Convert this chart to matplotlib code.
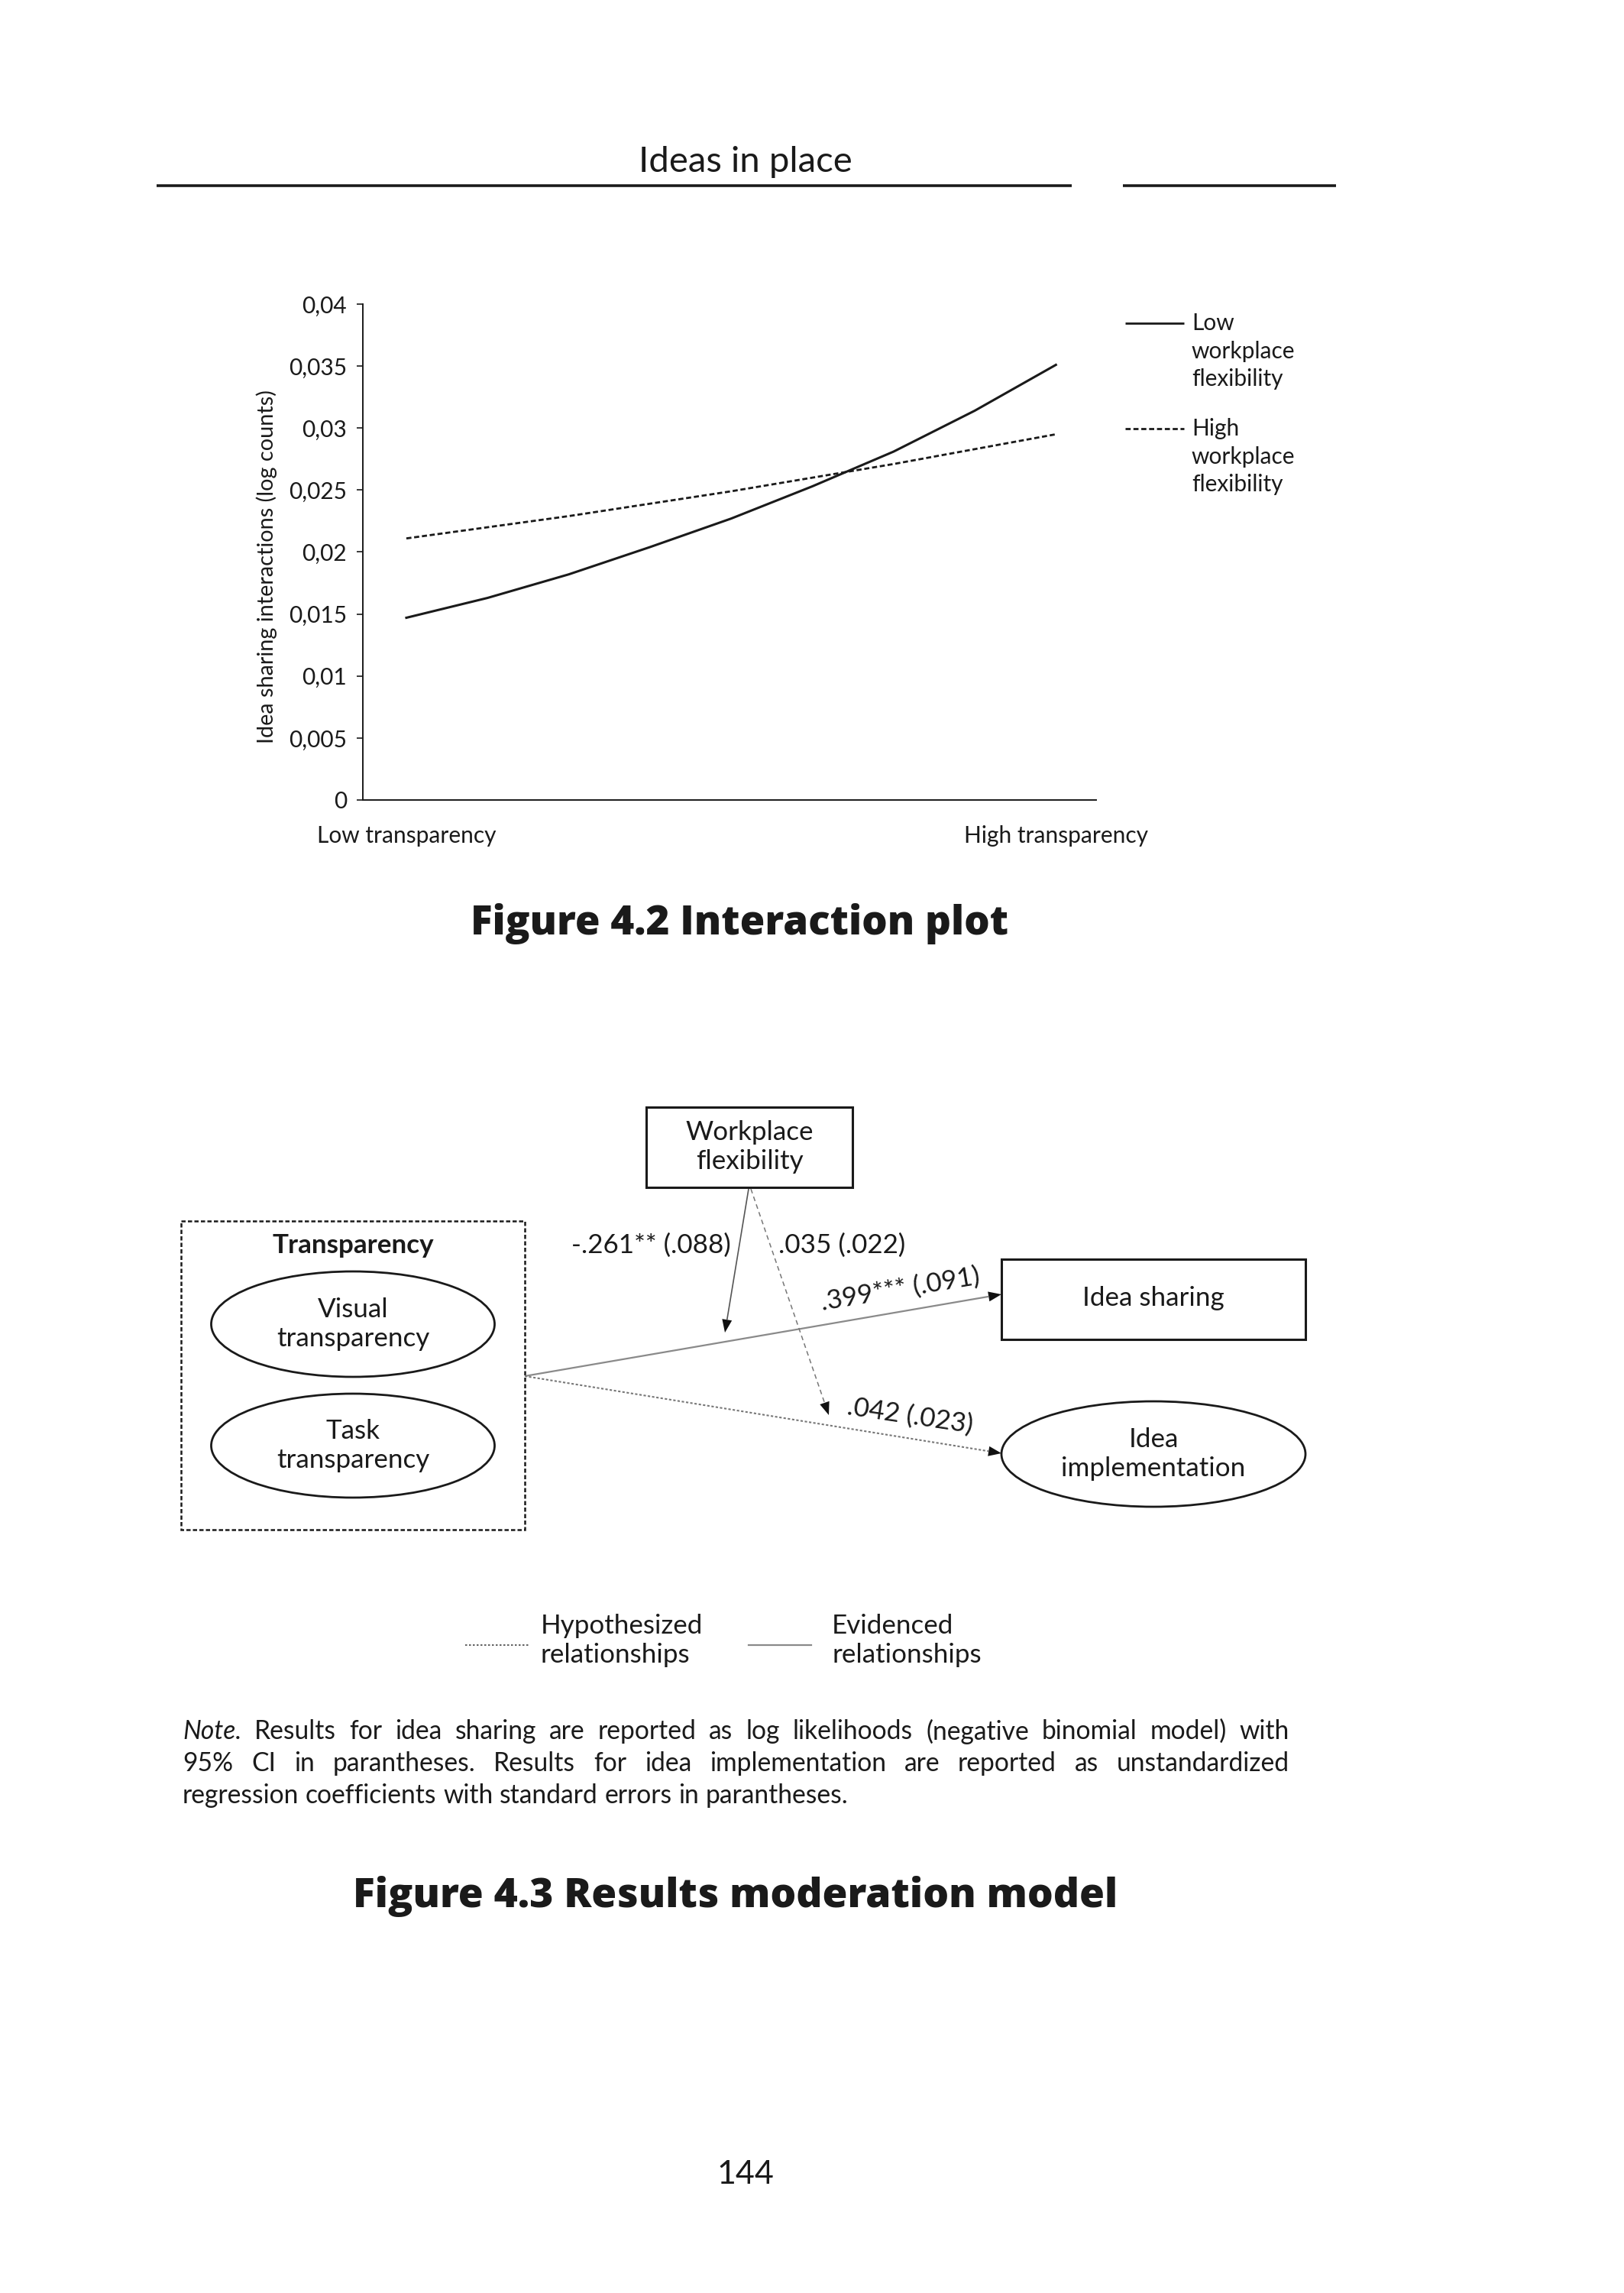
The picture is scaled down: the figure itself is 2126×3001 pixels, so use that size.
import matplotlib
matplotlib.use('Agg')
import matplotlib.pyplot as plt
from matplotlib.patches import Ellipse, Rectangle, Polygon
import numpy as np

# ---------------- data ----------------
x_categories = ['Low transparency', 'High transparency']
t_positions = [0, 0.125, 0.25, 0.375, 0.5, 0.625, 0.75, 0.875, 1.0]
low_flex_values = [0.0147, 0.0163, 0.0182, 0.0204, 0.0227, 0.0253, 0.0281, 0.0314, 0.0351]
high_flex_values = [0.0211, 0.0220, 0.0229, 0.0239, 0.0249, 0.0260, 0.0271, 0.0283, 0.0295]
y_ticks = [0, 0.005, 0.01, 0.015, 0.02, 0.025, 0.03, 0.035, 0.04]
y_tick_labels = ['0', '0,005', '0,01', '0,015', '0,02', '0,025', '0,03', '0,035', '0,04']
legend_labels = ['Low\nworkplace\nflexibility', 'High\nworkplace\nflexibility']
y_label = 'Idea sharing interactions (log counts)'

coef_moderation_sharing = '-.261** (.088)'
coef_moderation_impl = '.035 (.022)'
coef_sharing = '.399*** (.091)'
coef_impl = '.042 (.023)'

note_lines = [
    'Results for idea sharing are reported as log likelihoods (negative binomial model) with',
    '95% CI in parantheses. Results for idea implementation are reported as unstandardized',
    'regression coefficients with standard errors in parantheses.',
]

W, H = 2126, 3001
FONT = 'Lato'
INK = '#1a1a1a'

fig = plt.figure(figsize=(W / 100, H / 100), dpi=100)
fig.patch.set_facecolor('white')
renderer = fig.canvas.get_renderer()

# page overlay axes in pixel coordinates (origin top-left)
pg = fig.add_axes([0, 0, 1, 1])
pg.set_xlim(0, W)
pg.set_ylim(H, 0)
pg.axis('off')


def width_of(t):
    return t.get_window_extent(renderer).width


def fit(ax, x, y, s, width, base=20, **kw):
    t = ax.text(x, y, s, fontsize=base, **kw)
    t.set_fontsize(base * width / width_of(t))
    return t


def size_for(s, width, base=20, **kw):
    t = pg.text(0, 0, s, fontsize=base, **kw)
    w = width_of(t)
    t.remove()
    return base * width / w

# ---------------- header ----------------
fit(pg, 976, 212, 'Ideas in place', 280, family=FONT, weight='normal',
    ha='center', va='center', color=INK)
pg.plot([205, 1403], [243, 243], color=INK, lw=2.6, solid_capstyle='butt')
pg.plot([1470, 1749], [243, 243], color=INK, lw=2.6, solid_capstyle='butt')

# ---------------- chart ----------------
chart_fs = size_for('Low transparency', 234, family=FONT)
ax = fig.add_axes([475 / W, 1 - 1047 / H, 960 / W, 649 / H])
ax.set_facecolor('none')
ax.plot(t_positions, low_flex_values, color=INK, lw=2.2, solid_joinstyle='round')
ax.plot(t_positions, high_flex_values, color=INK, lw=2.0, ls=(0, (2.4, 1.3)))
ax.set_xlim(-0.067, 1.062)
ax.set_ylim(0, 0.04)
for s in ['top', 'right']:
    ax.spines[s].set_visible(False)
for s in ['left', 'bottom']:
    ax.spines[s].set_color(INK)
    ax.spines[s].set_linewidth(1.4)
ax.set_yticks(y_ticks)
ax.set_yticklabels(y_tick_labels, family=FONT, fontsize=chart_fs, color=INK)
ax.set_xticks([0, 1])
ax.set_xticklabels(x_categories, family=FONT, fontsize=chart_fs, color=INK)
ax.tick_params(axis='y', direction='out', length=6, width=1.2, pad=9, colors=INK)
ax.tick_params(axis='x', length=0, pad=24, colors=INK)
ax.set_ylabel(y_label, family=FONT, fontsize=chart_fs * 0.97, color=INK)
ax.yaxis.set_label_coords(-0.117, 0.47)

# chart legend (manual, handle aligned with first text line)
lsp = 41 / (chart_fs * 100 / 72)
pg.plot([1473, 1550], [423, 423], color=INK, lw=2.0, solid_capstyle='butt')
pg.text(1560, 423 - 14, legend_labels[0], family=FONT, fontsize=chart_fs, color=INK,
        ha='left', va='top', linespacing=lsp)
pg.plot([1473, 1550], [561, 561], color=INK, lw=2.0, ls=(0, (2.4, 1.3)))
pg.text(1560, 561 - 14, legend_labels[1], family=FONT, fontsize=chart_fs, color=INK,
        ha='left', va='top', linespacing=lsp)

# title 4.2
fit(pg, 968, 1209, 'Figure 4.2 Interaction plot', 704, family='Open Sans',
    weight='heavy', ha='center', va='center', color=INK)

# ---------------- diagram ----------------
dfs = size_for('Idea sharing', 186, family=FONT)
dlsp = 42 / (dfs * 100 / 72)


def dtext(x, y, s, **kw):
    kw.setdefault('ha', 'center')
    kw.setdefault('va', 'center')
    return pg.text(x, y, s, family=FONT, fontsize=dfs, color=INK, linespacing=dlsp, **kw)


def arrow(p0, p1, color, ls, lw, hl=17, hw=6.5):
    p0 = np.array(p0, float)
    p1 = np.array(p1, float)
    d = p1 - p0
    u = d / np.hypot(*d)
    n = np.array([-u[1], u[0]])
    base = p1 - u * hl
    pg.plot([p0[0], base[0]], [p0[1], base[1]], color=color, ls=ls, lw=lw,
            solid_capstyle='butt')
    pg.add_patch(Polygon([p1, base + n * hw, base - n * hw], closed=True,
                         facecolor='#111111', edgecolor='none'))

# workplace flexibility box
pg.add_patch(Rectangle((846, 1449), 270, 105, fill=False, ec=INK, lw=2.2))
dtext(981, 1501, 'Workplace\nflexibility')

# transparency dashed box
pg.add_patch(Rectangle((237, 1598), 450, 404, fill=False, ec=INK, lw=1.8,
                       ls=(0, (2.2, 1.2))))
dtext(462, 1630, 'Transparency', weight='bold')
pg.add_patch(Ellipse((462, 1733), 371, 138, fill=False, ec=INK, lw=2.0))
dtext(462, 1733, 'Visual\ntransparency')
pg.add_patch(Ellipse((462, 1892), 371, 136, fill=False, ec=INK, lw=2.0))
dtext(462, 1892, 'Task\ntransparency')

# idea sharing box
pg.add_patch(Rectangle((1311, 1648), 398, 105, fill=False, ec=INK, lw=2.2))
dtext(1510, 1699, 'Idea sharing')

# idea implementation ellipse
pg.add_patch(Ellipse((1510, 1903), 398, 138, fill=False, ec=INK, lw=2.0))
dtext(1510, 1903, 'Idea\nimplementation')

# arrows
arrow((687, 1801), (1311, 1694), '#8a8a8a', '-', 1.6)
arrow((687, 1801), (1311, 1902), '#777777', (0, (1.5, 1.2)), 1.5)
arrow((980, 1556), (949, 1744), '#555555', '-', 1.2)
arrow((983, 1556), (1085, 1852), '#777777', (0, (4, 3)), 1.1)

# coefficients
dtext(852, 1630, coef_moderation_sharing)
dtext(1102, 1630, coef_moderation_impl)
dtext(1178, 1688, coef_sharing, rotation=9.5, rotation_mode='anchor')
dtext(1191, 1853, coef_impl, rotation=-8.5, rotation_mode='anchor')

# diagram legend
pg.plot([609, 693], [2153, 2153], color='#666666', lw=1.5, ls=(0, (1.2, 1.2)))
dtext(708, 2147, 'Hypothesized\nrelationships', ha='left')
pg.plot([980, 1062], [2153, 2153], color='#8a8a8a', lw=1.6)
dtext(1089, 2147, 'Evidenced\nrelationships', ha='left')

# note (justified)
nfs = size_for(note_lines[2], 873, family=FONT)
x_left, x_right = 239, 1688
line_y = [2266, 2308, 2350]
for i, (line, y) in enumerate(zip(note_lines, line_y)):
    words = line.split(' ')
    items = []
    if i == 0:
        items.append(pg.text(0, y, 'Note.', family=FONT, style='italic', fontsize=nfs,
                             color=INK, ha='left', va='center'))
    for w_ in words:
        items.append(pg.text(0, y, w_, family=FONT, fontsize=nfs, color=INK,
                             ha='left', va='center'))
    widths = [width_of(t) for t in items]
    if i < 2:
        gap = (x_right - x_left - sum(widths)) / (len(items) - 1)
    else:
        sp = pg.text(0, 0, 'a a', family=FONT, fontsize=nfs)
        sp2 = pg.text(0, 0, 'aa', family=FONT, fontsize=nfs)
        gap = width_of(sp) - width_of(sp2)
        sp.remove(); sp2.remove()
    xx = x_left
    for t, wd in zip(items, widths):
        t.set_x(xx)
        xx += wd + gap

# title 4.3
fit(pg, 963, 2482, 'Figure 4.3 Results moderation model', 1001, family='Open Sans',
    weight='heavy', ha='center', va='center', color=INK)

# page number
fit(pg, 976, 2846, '144', 75, family=FONT, ha='center', va='center', color=INK)

fig.savefig('out.png', dpi=100, facecolor='white')
